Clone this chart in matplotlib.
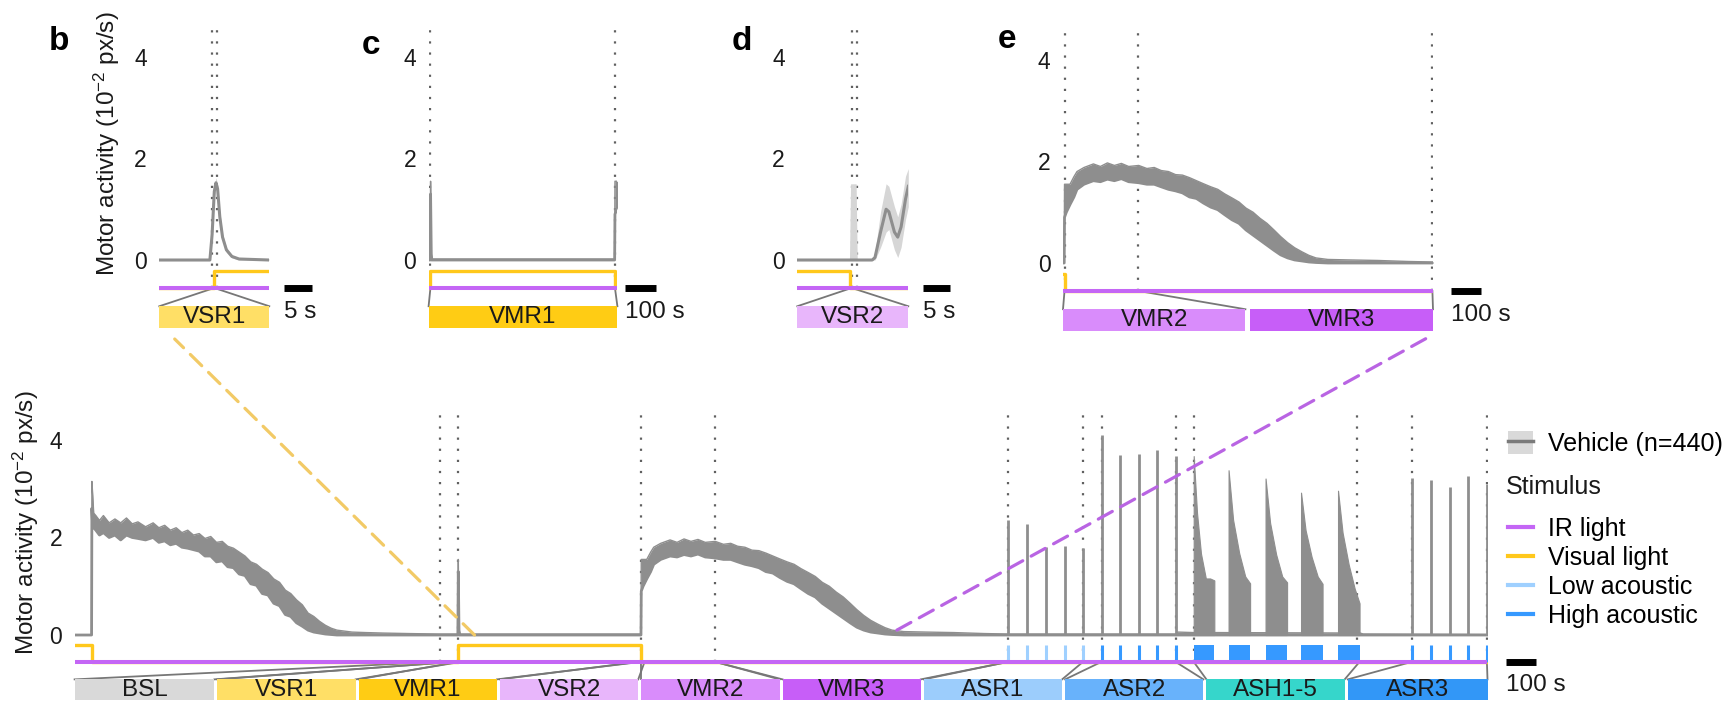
import matplotlib
matplotlib.use('Agg')
import matplotlib.pyplot as plt
from matplotlib.lines import Line2D
from matplotlib.patches import Patch, ConnectionPatch

plt.rcParams['font.family'] = ['Liberation Sans', 'DejaVu Sans']
plt.rcParams['mathtext.fontset'] = 'custom'
plt.rcParams['mathtext.rm'] = 'Liberation Sans'
plt.rcParams['mathtext.it'] = 'Liberation Sans:italic'
plt.rcParams['mathtext.bf'] = 'Liberation Sans:bold'

# ---------------- data (time in s, activity in 10^-2 px/s) ----------------
T_END = 4660

# noisy vehicle trace, read as lower / upper edge of the band
trace_t = [0, 56, 57, 59, 63, 70, 82, 95, 114, 133, 152, 171, 190, 209, 234, 259, 278, 297,
           316, 335, 354, 373, 392, 411, 430, 449, 468, 487, 505, 524, 543, 562, 581, 600,
           619, 638, 657, 676, 695, 713, 732, 751, 770, 789, 808, 827, 846, 865, 890, 915,
           960, 1017, 1100, 1200, 1264, 1265.5, 1268, 1272, 1868, 1869, 1875, 1887, 1900,
           1910, 1933, 1964, 1987, 2010, 2033, 2056, 2080, 2113, 2140, 2164, 2187, 2211,
           2234, 2257, 2280, 2303, 2326, 2350, 2373, 2396, 2420, 2443, 2466, 2489, 2512,
           2535, 2558, 2580, 2603, 2626, 2650, 2673, 2696, 2735, 2811, 2900, 3000, 3079,
           3630, 3640, 3690, 3760, 4240, 4250, 4660]
trace_lo = [0, 0, 2.6, 2.3, 2.2, 2.15, 2.05, 2.1, 2.0, 2.05, 1.95, 2.05, 2.0, 1.98, 1.95, 2.0,
            1.9, 1.93, 1.85, 1.88, 1.8, 1.78, 1.75, 1.72, 1.62, 1.62, 1.5, 1.52, 1.4, 1.38,
            1.25, 1.22, 1.05, 1.02, 0.85, 0.82, 0.65, 0.6, 0.42, 0.38, 0.25, 0.18, 0.1, 0.06,
            0.04, 0.02, 0.01, 0, 0, 0, 0, 0, 0, 0, 0, 1.3, 0, 0, 0, 0.9, 1.0, 1.15, 1.3, 1.45,
            1.55, 1.62, 1.6, 1.65, 1.62, 1.66, 1.6, 1.58, 1.55, 1.55, 1.5, 1.45, 1.42, 1.38,
            1.3, 1.27, 1.18, 1.1, 1.05, 0.95, 0.85, 0.78, 0.65, 0.55, 0.45, 0.35, 0.25, 0.16,
            0.1, 0.06, 0.04, 0.02, 0.01, 0, 0, 0, 0, 0, 0, 0, 0, 0, 0, 0, 0]
trace_hi = [0, 0, 3.15, 2.95, 2.5, 2.45, 2.35, 2.45, 2.3, 2.38, 2.3, 2.4, 2.28, 2.32, 2.22, 2.3,
            2.2, 2.25, 2.15, 2.2, 2.1, 2.15, 2.05, 2.08, 1.98, 2.02, 1.9, 1.92, 1.82, 1.78,
            1.7, 1.62, 1.5, 1.45, 1.35, 1.28, 1.15, 1.08, 0.92, 0.85, 0.72, 0.62, 0.45, 0.38,
            0.28, 0.2, 0.14, 0.1, 0.08, 0.06, 0.05, 0.04, 0.03, 0.02, 0.02, 1.55, 0.12, 0.02,
            0.02, 1.55, 1.55, 1.55, 1.7, 1.8, 1.88, 1.95, 1.9, 1.97, 1.92, 1.96, 1.9, 1.92,
            1.86, 1.88, 1.82, 1.8, 1.74, 1.73, 1.68, 1.62, 1.56, 1.5, 1.45, 1.36, 1.28, 1.2,
            1.08, 1.0, 0.88, 0.78, 0.65, 0.52, 0.4, 0.3, 0.22, 0.15, 0.1, 0.07, 0.06, 0.05,
            0.03, 0.02, 0.02, 0.06, 0.05, 0.05, 0.04, 0.02, 0.01]

# acoustic startle responses
asr1_t = [3080, 3140, 3203, 3265, 3326]
asr1_h = [2.36, 2.27, 1.81, 1.83, 1.79]
asr2_t = [3387, 3449, 3510, 3569, 3631]
asr2_h = [4.10, 3.69, 3.71, 3.80, 3.67]
asr3_t = [4411, 4474, 4535, 4596, 4658]
asr3_h = [3.21, 3.18, 3.04, 3.26, 3.09]

# acoustic habituation blocks (envelope of the dense responses)
ash_t = [[3691, 3702, 3715, 3731, 3745, 3759],
         [3806, 3821, 3841, 3861, 3877],
         [3928, 3943, 3963, 3983, 3999],
         [4045, 4060, 4080, 4100, 4116],
         [4167, 4182, 4202, 4222, 4238]]
ash_h = [[3.67, 2.5, 1.67, 1.16, 1.16, 1.12],
         [3.38, 2.36, 1.68, 1.2, 1.06],
         [3.21, 2.3, 1.65, 1.2, 1.08],
         [2.92, 2.15, 1.6, 1.2, 1.05],
         [2.96, 2.1, 1.45, 0.95, 0.65]]

# visual light on/off
light_t = [0, 57, 1265, 1869, T_END]
light_on = [1, 0, 1, 0, 0]

# inset b: visual startle at light on (fine resolution)
vsr1_t = [1255, 1264.2, 1264.6, 1265.0, 1265.3, 1265.6, 1266.0, 1266.5, 1267.2, 1268.2, 1269.5, 1275]
vsr1_mean = [0, 0, 0.5, 1.35, 1.52, 1.4, 0.85, 0.45, 0.2, 0.07, 0.02, 0]
vsr1_lo = [0, 0, 0.4, 1.25, 1.42, 1.3, 0.75, 0.38, 0.15, 0.04, 0, 0]
vsr1_hi = [0.02, 0.02, 0.6, 1.45, 1.62, 1.5, 0.95, 0.52, 0.25, 0.1, 0.04, 0.02]

# inset d: visual startle at light off
vsr2_t = [1859.5, 1868.9, 1869.1, 1870.1, 1870.3, 1873.0, 1873.5, 1874.5, 1875.5, 1876.0,
          1877.0, 1877.6, 1878.2, 1879.0, 1879.5]
vsr2_mean = [0, 0, 0, 0, 0, 0, 0.05, 0.55, 1.0, 0.95, 0.55, 0.45, 0.65, 1.2, 1.45]
vsr2_lo = [0, 0, 0, 0, 0, 0, 0, 0.25, 0.55, 0.6, 0.2, 0.05, 0.25, 0.8, 1.05]
vsr2_hi = [0.02, 0.02, 1.5, 1.5, 0.02, 0.02, 0.15, 0.95, 1.5, 1.45, 1.05, 0.85, 1.1, 1.65, 1.8]

# protocol segments
seg_names = ['BSL', 'VSR1', 'VMR1', 'VSR2', 'VMR2', 'VMR3', 'ASR1', 'ASR2', 'ASH1-5', 'ASR3']
seg_start = [1205, 1255, 1265, 1860, 1869, 2112, 3080, 3387, 3691, 4411]
seg_end = [1255, 1275, 1869, 1880, 2112, 3080, 3326, 3631, 4238, 4658]
seg_colors = ['#d9d9d9', '#ffdf66', '#ffcc14', '#e8b6fb', '#d98cfb', '#c75ef8',
              '#9ccdfc', '#68b2fb', '#36d6cb', '#3297f7']

main_marks = [1204, 1265, 1869, 2112, 3080, 3326, 3387, 3631, 3691, 4230, 4411, 4658]

# ---------------- style ----------------
TRACE = '#8e8e8e'
CI = '#d6d6d6'
PUR = '#c466f5'
YEL = '#ffc81c'
LOW = '#9fd0ff'
HIGH = '#3699ff'
TXT = '#1a1a1a'
ON, IR, BOX_TOP, BOX_BOT = -0.21, -0.55, -0.91, -1.34
FS_BOX = 17.5

W, H = 1733, 703
fig = plt.figure(figsize=(W / 100, H / 100), dpi=100)


def px_axes(x0, y0, x1, y1):
    return fig.add_axes([x0 / W, 1 - y1 / H, (x1 - x0) / W, (y1 - y0) / H])


def style(ax, xlim, ylim):
    ax.set_xlim(*xlim)
    ax.set_ylim(*ylim)
    for s in ax.spines.values():
        s.set_visible(False)
    ax.set_xticks([])
    ax.set_yticks([0, 2, 4])
    ax.tick_params(axis='y', length=0, pad=9.0, labelsize=16.5, labelcolor=TXT)
    ax.patch.set_alpha(0)


def draw_trace(ax, spikes=True):
    ax.fill_between(trace_t, trace_lo, trace_hi, color=TRACE, lw=0, zorder=2)
    ax.plot(trace_t, trace_lo, color=TRACE, lw=2.0, zorder=2)
    ax.plot(trace_t, trace_hi, color=TRACE, lw=1.0, zorder=2)
    if spikes:
        ax.vlines(asr1_t + asr2_t + asr3_t, 0, asr1_h + asr2_h + asr3_h, color=TRACE, lw=2.0, zorder=2)
        for bt, bh in zip(ash_t, ash_h):
            ax.fill_between(bt, 0, bh, color=TRACE, lw=0.8, zorder=2)


def draw_stim(ax, x0, x1, acoustic=False):
    ax.step(light_t, [ON if s else IR for s in light_on], where='post', color=YEL, lw=2.4, zorder=3)
    if acoustic:
        ax.vlines(asr1_t, IR, ON, color=LOW, lw=2.2, zorder=3)
        ax.vlines(asr2_t + asr3_t, IR, ON, color=HIGH, lw=2.2, zorder=3)
        for bt in ash_t:
            ax.bar(bt[0], ON - IR, width=bt[-1] - bt[0], bottom=IR, align='edge', color=HIGH, lw=0, zorder=3)
    ax.plot([x0, x1], [IR, IR], color=PUR, lw=2.9, solid_capstyle='butt', zorder=4, clip_on=False)


def marks(ax, xs, top):
    ax.vlines(xs, IR, top, colors='#606060', linestyles=[(0, (1, 4))], lw=1.6, zorder=1)


def boxes(ax, lefts, rights, names, colors):
    for l, r, n, c in zip(lefts, rights, names, colors):
        ax.bar(l, BOX_TOP - BOX_BOT, width=r - l, bottom=BOX_BOT, align='edge', color=c, lw=0,
               zorder=3, clip_on=False)
        ax.text((l + r) / 2, (BOX_TOP + BOX_BOT) / 2, n, ha='center', va='center',
                fontsize=FS_BOX, color=TXT, zorder=4, clip_on=False)


def connect(ax, pairs):
    for t, bx in pairs:
        ax.plot([t, bx], [IR, BOX_TOP], color='#777777', lw=1.3, zorder=2, clip_on=False)


def scalebar(ax, x0, length, label):
    ax.plot([x0, x0 + length], [IR, IR], color='black', lw=5, solid_capstyle='butt', clip_on=False)
    ax.text(x0, -1.03, label, ha='left', va='center', fontsize=FS_BOX, color=TXT, clip_on=False)


# ---------------- main panel ----------------
ax = px_axes(74.6, 400, 1487.5, 702)
style(ax, (0, T_END), (-1.374, 4.82))
marks(ax, main_marks, 4.58)
draw_trace(ax)
draw_stim(ax, 0, T_END, acoustic=True)
step = T_END / 10
lefts = [i * step + (0 if i == 0 else 5) for i in range(10)]
rights = [(i + 1) * step - (0 if i == 9 else 5) for i in range(10)]
boxes(ax, lefts, rights, seg_names, seg_colors)
connect(ax, list(zip(seg_start, lefts)) + list(zip(seg_end, rights)))
scalebar(ax, 4720, 100, '100 s')
ax_main = ax

# legend
leg1 = ax.legend([(Patch(facecolor='#d9d9d9', lw=0), Line2D([], [], color='#7a7a7a', lw=2.5))],
                 ['Vehicle (n=440)'], loc='upper left', bbox_to_anchor=(1508 / W, 1 - 431 / H),
                 bbox_transform=fig.transFigure, frameon=False, fontsize=18, borderpad=0,
                 borderaxespad=0, handlelength=1.0, handleheight=1.05, handletextpad=0.62)
ax.add_artist(leg1)
stim_handles = [Line2D([], [], color=c, lw=3) for c in (PUR, YEL, LOW, HIGH)]
ax.legend(stim_handles, ['IR light', 'Visual light', 'Low acoustic', 'High acoustic'],
          loc='upper left', bbox_to_anchor=(1508 / W, 1 - 517 / H), bbox_transform=fig.transFigure,
          frameon=False, fontsize=18, borderpad=0, borderaxespad=0, handlelength=1.0,
          handletextpad=0.62, labelspacing=0.2)
fig.text(1506 / W, 1 - 487 / H, 'Stimulus', ha='left', va='center', fontsize=18, color=TXT)

fig.text(26 / W, 1 - 523 / H, 'Motor activity (10$^{-2}$ px/s)', rotation=90, ha='center',
         va='center', fontsize=17.5, color=TXT)

# ---------------- inset b ----------------
ylim_in = (-1.476, 4.724)
axb = px_axes(159.3, 20, 269.3, 335)
style(axb, (1255, 1275), ylim_in)
marks(axb, [1264.5, 1265.5], 4.53)
axb.fill_between(vsr1_t, vsr1_lo, vsr1_hi, color=CI, lw=0, zorder=2)
axb.plot(vsr1_t, vsr1_mean, color=TRACE, lw=2.2, zorder=2)
draw_stim(axb, 1255, 1275)
boxes(axb, [1255], [1275], ['VSR1'], [seg_colors[1]])
connect(axb, [(1265, 1255), (1265, 1275)])
scalebar(axb, 1277.7, 5, '5 s')
fig.text(107 / W, 1 - 144 / H, 'Motor activity (10$^{-2}$ px/s)', rotation=90, ha='center',
         va='center', fontsize=17.5, color=TXT)

# ---------------- inset c ----------------
axc = px_axes(428.6, 20, 617.4, 335)
style(axc, (1259, 1877), ylim_in)
marks(axc, [1265, 1869], 4.53)
draw_trace(axc, spikes=False)
draw_stim(axc, 1259, 1877)
boxes(axc, [1259], [1877], ['VMR1'], [seg_colors[2]])
connect(axc, [(1265, 1259), (1869, 1877)])
scalebar(axc, 1902, 100, '100 s')

# ---------------- inset d ----------------
axd = px_axes(797.3, 20, 908.3, 335)
style(axd, (1859.5, 1879.5), ylim_in)
marks(axd, [1869.3, 1870.3], 4.53)
axd.fill_between(vsr2_t, vsr2_lo, vsr2_hi, color=CI, lw=0, zorder=2)
axd.plot(vsr2_t, vsr2_mean, color=TRACE, lw=2.2, zorder=2)
draw_stim(axd, 1859.5, 1879.5)
boxes(axd, [1859.5], [1879.5], ['VSR2'], [seg_colors[3]])
connect(axd, [(1869.3, 1859.5), (1869.3, 1879.5)])
scalebar(axd, 1882.1, 5, '5 s')

# ---------------- inset e ----------------
axe = px_axes(1063, 23, 1433, 338)
style(axe, (1864, 3081), ylim_in)
marks(axe, [1869, 2112, 3079], 4.53)
draw_trace(axe, spikes=False)
draw_stim(axe, 1864, 3081)
boxes(axe, [1864, 2479], [2464, 3081], ['VMR2', 'VMR3'], [seg_colors[4], seg_colors[5]])
connect(axe, [(1869, 1864), (2112, 2464), (3079, 3081)])
scalebar(axe, 3140, 100, '100 s')

# panel letters
for lab, x, y in [('b', 59, 42), ('c', 371, 45), ('d', 742, 42), ('e', 1007, 40)]:
    fig.text(x / W, 1 - y / H, lab, ha='center', va='center', fontsize=24, fontweight='bold', color='black')

# dashed zoom connectors
fig.add_artist(ConnectionPatch(xyA=(1319, 0), coordsA=ax_main.transData, xyB=(1257.8, -1.555),
                               coordsB=axb.transData, color='#f2ca66', lw=2.3, linestyle=(0, (5, 3))))
fig.add_artist(ConnectionPatch(xyA=(2712, 0.1), coordsA=ax_main.transData, xyB=(3057, -1.49),
                               coordsB=axe.transData, color='#b964e3', lw=2.3, linestyle=(0, (5, 3))))

fig.savefig('out.png', dpi=100)
